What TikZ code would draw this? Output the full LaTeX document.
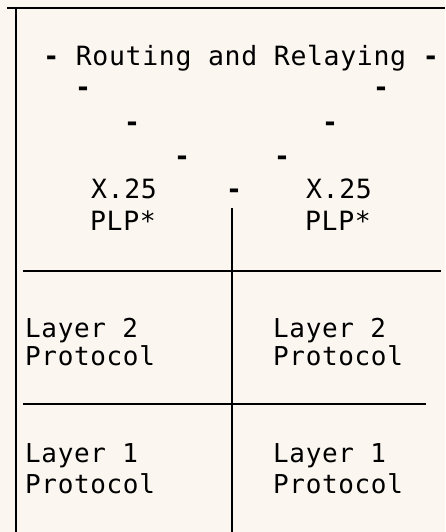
\documentclass[tikz,border=0pt]{standalone}
\usepackage{fontspec}
\newfontfamily\typew[LetterSpace=2.5]{DejaVu Sans Mono}
\definecolor{paper}{HTML}{FCF6F0}
\begin{document}
\begin{tikzpicture}[x=1pt,y=-1pt,
  rule/.style={line width=2.2pt, black},
  lbl/.style={inner sep=0pt, anchor=base west, font=\typew\fontsize{26}{30}\selectfont},
  clbl/.style={inner sep=0pt, anchor=base, font=\typew\fontsize{26.5}{30}\selectfont},
  hy/.style={inner sep=0pt, anchor=base, font=\typew\bfseries\fontsize{26.5}{30}\selectfont}]
\fill[paper] (0,0) rectangle (445,532);
\useasboundingbox (0,0) rectangle (445,532);
% frame
\coordinate (tl) at (7,8);
\coordinate (tr) at (445,8);
\coordinate (lt) at (16,8);
\coordinate (lb) at (16,532);
\coordinate (m1) at (232,208);
\coordinate (m2) at (232,532);
\coordinate (h1a) at (23,271);
\coordinate (h1b) at (441,271);
\coordinate (h2a) at (23,404);
\coordinate (h2b) at (426,404);
\draw[rule] (tl) -- (tr);
\draw[rule] (lt) -- (lb);
\draw[rule] (m1) -- (m2);
\draw[rule] (h1a) -- (h1b);
\draw[rule] (h2a) -- (h2b);
% title
\node[clbl] (title) at (241,66) {{\bfseries -} Routing and Relaying {\bfseries -}};
% converging hyphens
\node[hy] (d1l) at (83,96) {-};
\node[hy] (d1r) at (381,96) {-};
\node[hy] (d2l) at (132,131) {-};
\node[hy] (d2r) at (330,131) {-};
\node[hy] (d3l) at (182,165) {-};
\node[hy] (d3r) at (282,165) {-};
\node[hy] (d4) at (234,198) {-};
% X.25 PLP
\node[clbl] (xl) at (124,198) {X.25};
\node[clbl] (pl) at (123,230) {PLP*};
\node[clbl] (xr) at (339,198) {X.25};
\node[clbl] (pr) at (338,230) {PLP*};
% layer 2
\node[lbl] (l2l) at (25,337) {Layer 2};
\node[lbl] (p2l) at (25,365) {Protocol};
\node[lbl] (l2r) at (273,337) {Layer 2};
\node[lbl] (p2r) at (273,365) {Protocol};
% layer 1
\node[lbl] (l1l) at (25,462) {Layer 1};
\node[lbl] (p1l) at (25,493) {Protocol};
\node[lbl] (l1r) at (273,462) {Layer 1};
\node[lbl] (p1r) at (273,493) {Protocol};
\end{tikzpicture}
\end{document}
